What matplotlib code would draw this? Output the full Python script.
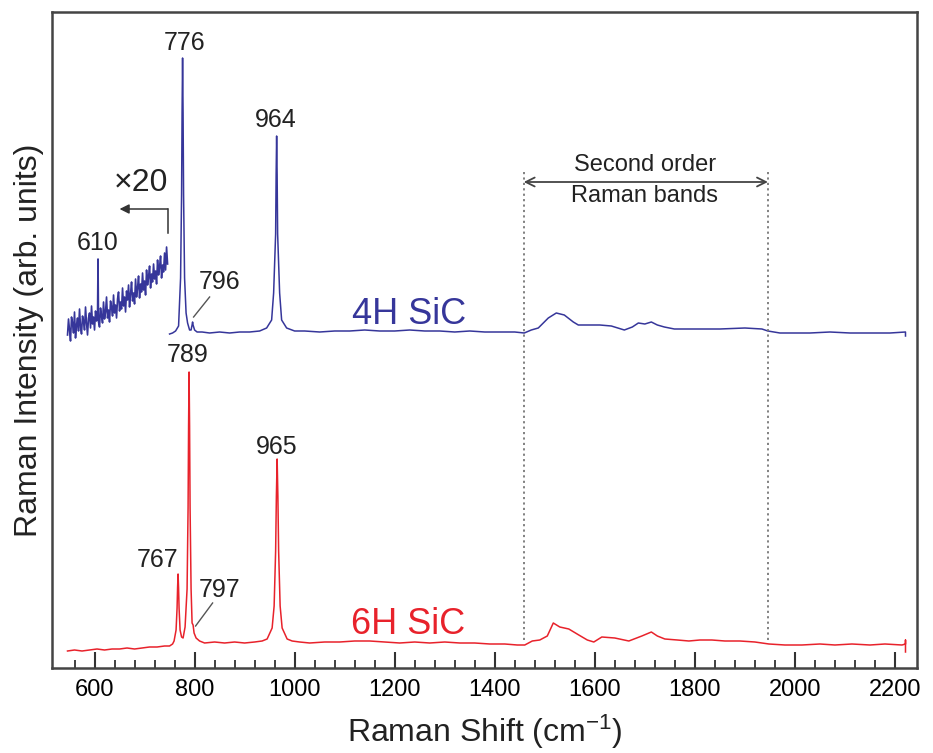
import matplotlib
matplotlib.use("Agg")
import matplotlib.pyplot as plt
from matplotlib.ticker import FixedLocator, NullLocator

plt.rcParams['font.family'] = ['Liberation Sans', 'DejaVu Sans']
plt.rcParams['mathtext.fontset'] = 'custom'
plt.rcParams['mathtext.rm'] = 'Liberation Sans'
plt.rcParams['mathtext.default'] = 'regular'

# ---------------- data (Raman shift in cm-1, intensity in arb. units) -------------
# 4H SiC, x20 magnified low-frequency segment (noisy)
h4_zoom_x = [546, 548, 550, 552, 554, 556, 558, 560, 562, 564, 566, 568, 570, 572,
             574, 576, 578, 580, 582, 584, 586, 588, 590, 592, 594, 596, 598, 600,
             602, 604, 606, 607, 608, 610, 612, 614, 616, 618, 620, 622, 624, 626,
             628, 630, 632, 634, 636, 638, 640, 642, 644, 646, 648, 650, 652, 654,
             656, 658, 660, 662, 664, 666, 668, 670, 672, 674, 676, 678, 680, 682,
             684, 686, 688, 690, 692, 694, 696, 698, 700, 702, 704, 706, 708, 710,
             712, 714, 716, 718, 720, 722, 724, 726, 728, 730, 732, 734, 736, 738,
             740, 742, 744, 746]
h4_zoom_y = [333, 349, 338, 327, 351, 345, 335, 356, 330, 343, 350, 337, 359, 341,
             334, 352, 347, 338, 361, 345, 333, 350, 355, 340, 362, 344, 351, 338,
             357, 347, 353, 409, 346, 341, 360, 352, 345, 366, 349, 356, 371, 350,
             358, 346, 367, 361, 352, 373, 355, 363, 350, 369, 376, 357, 366, 359,
             380, 362, 371, 356, 377, 368, 383, 361, 374, 386, 367, 375, 364, 389,
             371, 380, 392, 370, 384, 376, 395, 378, 387, 373, 398, 383, 391, 402,
             380, 394, 386, 404, 389, 397, 384, 408, 393, 401, 412, 390, 403, 396,
             415, 398, 421, 404]

# 4H SiC main spectrum
h4_x = [750, 756, 762, 768, 772, 774, 775, 776, 777, 778, 780, 783, 786, 790, 793,
        795, 796, 797, 800, 805, 815, 830, 850, 870, 890, 910, 930, 944, 954, 958,
        962, 963, 964, 965, 966, 970, 974, 984, 1000, 1020, 1050, 1080, 1110, 1140,
        1170, 1200, 1230, 1260, 1290, 1320, 1350, 1380, 1410, 1440, 1459, 1473,
        1487, 1507, 1523, 1539, 1557, 1567, 1590, 1610, 1633, 1659, 1675, 1687,
        1700, 1713, 1725, 1739, 1759, 1800, 1850, 1900, 1934, 1946, 1970, 1994,
        2030, 2070, 2110, 2150, 2190, 2221, 2221]
h4_y = [334, 335, 337, 342, 390, 473, 555, 610, 555, 473, 390, 355, 345, 338, 338,
        343, 346, 343, 338, 336, 336, 335, 336, 335, 336, 336, 337, 340, 348, 375,
        434, 493, 532, 493, 434, 375, 348, 340, 337, 337, 336, 337, 337, 338,
        337, 337, 338, 337, 337, 336, 337, 336, 336, 336, 335, 338,
        340, 350, 355, 353, 346, 343, 343, 343, 342, 338, 341, 345,
        344, 346, 343, 341, 339, 339, 339, 340, 339, 337, 335, 335,
        335, 336, 335, 335, 335, 336, 332]

# 6H SiC spectrum
h6_x = [546, 560, 575, 590, 605, 620, 635, 650, 665, 680, 695, 710, 725, 740, 750,
        756, 759, 763, 765, 766, 767, 768, 769, 771, 774, 777, 781, 785, 787, 788,
        789, 790, 791, 793, 795, 797, 799, 803, 810, 820, 840, 860, 880, 900, 920,
        935, 945, 955, 959, 962, 963.5, 965, 966.5, 968, 971, 975, 985, 995, 1010,
        1030, 1060, 1090, 1120, 1150, 1180, 1210, 1240, 1270, 1300, 1330, 1360,
        1390, 1420, 1445, 1460, 1475, 1490, 1505, 1517, 1530, 1548, 1568, 1585,
        1598, 1614, 1640, 1668, 1694, 1713, 1725, 1740, 1765, 1788, 1810, 1834,
        1860, 1890, 1920, 1948, 1980, 2014, 2050, 2080, 2114, 2150, 2180, 2214,
        2221, 2221, 2221]
h6_y = [17, 18, 17, 18, 19, 18, 19, 19, 20, 19, 20, 21, 21, 22, 22,
        24, 27, 38, 60, 80, 94, 80, 60, 38, 31, 30, 41, 79, 160, 242,
        296, 242, 160, 79, 45, 43, 35, 30, 27, 25, 26, 25, 26, 25, 26,
        27, 29, 40, 62, 117, 172, 209, 172, 117, 62, 40, 29, 27, 26,
        25, 26, 26, 27, 27, 26, 25, 26, 25, 26, 25, 25,
        24, 24, 23, 23, 27, 28, 32, 45, 41, 39, 33, 28,
        26, 31, 30, 27, 32, 36, 32, 29, 28, 27, 28, 28,
        27, 27, 26, 24, 23, 23, 24, 23, 24, 23, 24, 23,
        24, 28, 16]

band_limits = [1458, 1946]

peak_labels_4h = ["776", "964", "796", "610"]
peak_labels_6h = ["789", "965", "767", "797"]

BLUE = "#36369a"
RED = "#e8222b"
DARK = "#222222"

fig = plt.figure(figsize=(9.33, 7.53), dpi=100)
ax = fig.add_axes([52 / 933, 85 / 753, 865 / 933, 656 / 753])

ax.plot(h4_zoom_x, h4_zoom_y, color=BLUE, lw=1.2)
ax.plot(h4_x, h4_y, color=BLUE, lw=1.1)
ax.plot(h6_x, h6_y, color=RED, lw=1.1)

ax.set_xlim(515, 2244)
ax.set_ylim(0, 656)

# dotted band limits + double arrow
for bx in band_limits:
    ax.plot([bx, bx], [28, 496], color="#777777", lw=1.3, ls=(0, (1.2, 1.8)))
ax.annotate("", xy=(band_limits[0], 486), xytext=(band_limits[1], 486),
            arrowprops=dict(arrowstyle="<->", color="#444444", lw=1.3,
                            mutation_scale=16, shrinkA=0, shrinkB=0))
ax.text(1700, 503, "Second order", ha="center", va="center", fontsize=17, color=DARK)
ax.text(1700, 472, "Raman bands", ha="center", va="center", fontsize=17, color=DARK)

# x20 bent arrow
ax.plot([746, 746], [435, 459], color="#333333", lw=1.1)
ax.annotate("", xy=(650, 459), xytext=(746, 459),
            arrowprops=dict(arrowstyle="-|>", color="#333333", lw=1.1,
                            mutation_scale=14, shrinkA=0, shrinkB=0))
ax.text(692, 485, "×20", ha="center", va="center", fontsize=23, color=DARK)

# peak labels 4H
ax.text(779, 625, peak_labels_4h[0], ha="center", va="center", fontsize=18, color=DARK)
ax.text(962, 548, peak_labels_4h[1], ha="center", va="center", fontsize=18, color=DARK)
ax.text(850, 386, peak_labels_4h[2], ha="center", va="center", fontsize=18, color=DARK)
ax.text(606, 425, peak_labels_4h[3], ha="center", va="center", fontsize=18, color=DARK)
ax.plot([830, 798], [371, 351], color="#555555", lw=1.0)

# peak labels 6H
ax.text(786, 313, peak_labels_6h[0], ha="center", va="center", fontsize=18, color=DARK)
ax.text(964, 221, peak_labels_6h[1], ha="center", va="center", fontsize=18, color=DARK)
ax.text(726, 108, peak_labels_6h[2], ha="center", va="center", fontsize=18, color=DARK)
ax.text(850, 78, peak_labels_6h[3], ha="center", va="center", fontsize=18, color=DARK)
ax.plot([836, 802], [65, 42], color="#555555", lw=1.0)

# series names
ax.text(1228, 353, "4H SiC", ha="center", va="center", fontsize=26, color=BLUE)
ax.text(1226, 43, "6H SiC", ha="center", va="center", fontsize=26, color=RED)

# axes styling
for sp in ax.spines.values():
    sp.set_linewidth(1.8)
    sp.set_color("#444444")
ax.xaxis.set_major_locator(FixedLocator(list(range(600, 2201, 200))))
ax.xaxis.set_minor_locator(FixedLocator(list(range(560, 2201, 40))))
ax.yaxis.set_major_locator(NullLocator())
ax.yaxis.set_minor_locator(NullLocator())
ax.tick_params(axis="x", which="major", direction="in", length=11.5, width=1.5,
               labelsize=17, pad=8, color="#333333", top=False)
ax.tick_params(axis="x", which="minor", direction="in", length=5.8, width=1.3,
               color="#333333", top=False)
ax.set_xlabel("Raman Shift (cm$^{-1}$)", fontsize=23, labelpad=8, color=DARK)
ax.set_ylabel("Raman Intensity (arb. units)", fontsize=23, labelpad=6, color=DARK)

fig.savefig("out.png", dpi=100)
